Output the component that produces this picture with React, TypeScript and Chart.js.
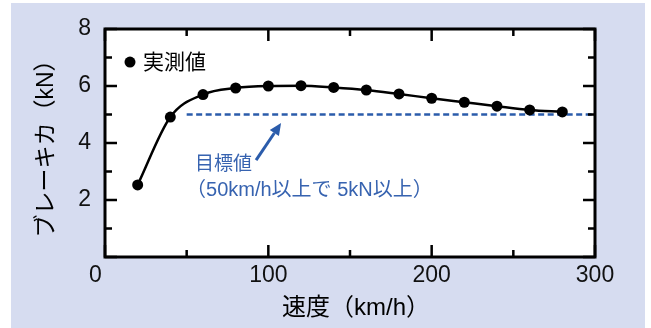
import React, { useEffect, useRef } from "react";
import { Chart, registerables } from "chart.js";

Chart.register(...registerables);

const speeds = [20, 40, 60, 80, 100, 120, 140, 160, 180, 200, 220, 240, 260, 280];
const forces = [2.53, 4.91, 5.7, 5.93, 6.0, 6.01, 5.95, 5.86, 5.72, 5.57, 5.43, 5.29, 5.16, 5.09];
const targetSpeeds = [50, 300];
const targetForces = [5, 5];
const xTickValues = [0, 100, 200, 300];
const yTickValues = [2, 4, 6, 8];
const xTitle = "速度（km/h）";
const yTitle = "ブレーキカ（kN）";
const legendLabel = "実測値";
const noteLine1 = "目標値";
const noteLine2 = "（50km/h以上で 5kN以上）";

const FONT = "'Liberation Sans', 'Noto Sans CJK JP', sans-serif";
const BLUE = "#2b5cab";
const NOTE_BLUE = "#3763b0";
const LAVENDER = "#d6dcf0";

const decorPlugin = {
  id: "decor",
  beforeDraw(chart: any) {
    const { ctx, chartArea: a } = chart;
    ctx.save();
    ctx.fillStyle = "#ffffff";
    ctx.fillRect(0, 0, chart.width, chart.height);
    ctx.fillStyle = LAVENDER;
    ctx.fillRect(11, 3, 634, 325);
    ctx.fillStyle = "#ffffff";
    ctx.fillRect(a.left, a.top, a.right - a.left, a.bottom - a.top);
    ctx.restore();
  },
  afterDraw(chart: any) {
    const { ctx, chartArea: a } = chart;
    const xs = chart.scales.x;
    const ys = chart.scales.y;
    ctx.save();
    // ticks
    ctx.strokeStyle = "#000";
    ctx.lineWidth = 2.5;
    ctx.beginPath();
    for (let v = 0; v <= 300; v += 50) {
      const px = xs.getPixelForValue(v);
      const len = v % 100 === 0 ? 12 : 7;
      ctx.moveTo(px, a.bottom);
      ctx.lineTo(px, a.bottom - len);
      ctx.moveTo(px, a.top);
      ctx.lineTo(px, a.top + len);
    }
    for (let v = 0; v <= 8; v += 1) {
      const py = ys.getPixelForValue(v);
      const len = v % 2 === 0 ? 12 : 7;
      ctx.moveTo(a.left, py);
      ctx.lineTo(a.left + len, py);
      ctx.moveTo(a.right, py);
      ctx.lineTo(a.right - len, py);
    }
    ctx.stroke();
    // border
    ctx.lineWidth = 3;
    ctx.strokeRect(a.left, a.top, a.right - a.left, a.bottom - a.top);

    // legend
    const lx = xs.getPixelForValue(15.3);
    const ly = ys.getPixelForValue(6.84);
    ctx.fillStyle = "#000";
    ctx.beginPath();
    ctx.arc(lx, ly, 5.5, 0, Math.PI * 2);
    ctx.fill();
    ctx.font = `21px ${FONT}`;
    ctx.textAlign = "left";
    ctx.textBaseline = "middle";
    ctx.fillText(legendLabel, lx + 13, ly + 1);

    // arrow
    const tx = xs.getPixelForValue(92.5), ty = ys.getPixelForValue(3.4);
    const hx = xs.getPixelForValue(107.8), hy = ys.getPixelForValue(4.7);
    const ang = Math.atan2(hy - ty, hx - tx);
    const headLen = 12, headW = 5.5;
    const bx = hx - headLen * Math.cos(ang), by = hy - headLen * Math.sin(ang);
    ctx.strokeStyle = BLUE;
    ctx.fillStyle = BLUE;
    ctx.lineWidth = 3;
    ctx.beginPath();
    ctx.moveTo(tx, ty);
    ctx.lineTo(bx, by);
    ctx.stroke();
    ctx.beginPath();
    ctx.moveTo(hx, hy);
    ctx.lineTo(bx + headW * Math.sin(ang), by - headW * Math.cos(ang));
    ctx.lineTo(bx - headW * Math.sin(ang), by + headW * Math.cos(ang));
    ctx.closePath();
    ctx.fill();

    // note text
    ctx.fillStyle = NOTE_BLUE;
    ctx.textAlign = "left";
    ctx.textBaseline = "middle";
    ctx.font = `19px ${FONT}`;
    ctx.fillText(noteLine1, xs.getPixelForValue(55.1), ys.getPixelForValue(3.23));
    ctx.font = `20px ${FONT}`;
    ctx.fillText(noteLine2, xs.getPixelForValue(49.6), ys.getPixelForValue(2.35));

    // axis titles
    ctx.fillStyle = "#000";
    ctx.textAlign = "center";
    ctx.textBaseline = "middle";
    ctx.font = `24px ${FONT}`;
    ctx.fillText(xTitle, (a.left + a.right) / 2 + 6, 308);
    ctx.font = `23px ${FONT}`;
    ctx.save();
    ctx.translate(47, (a.top + a.bottom) / 2);
    ctx.rotate(-Math.PI / 2);
    ctx.fillText(yTitle, 0, 0);
    ctx.restore();
    ctx.restore();
  },
};

export default function App() {
  const ref = useRef<HTMLCanvasElement | null>(null);
  useEffect(() => {
    if (!ref.current) return;
    const chart = new Chart(ref.current, {
      type: "line",
      data: {
        datasets: [
          {
            data: speeds.map((s, i) => ({ x: s, y: forces[i] })),
            borderColor: "#000",
            backgroundColor: "#000",
            borderWidth: 2.5,
            pointRadius: 5.5,
            pointBackgroundColor: "#000",
            pointBorderWidth: 0,
            cubicInterpolationMode: "monotone",
            fill: false,
            order: 1,
          },
          {
            data: targetSpeeds.map((s, i) => ({ x: s, y: targetForces[i] })),
            borderColor: BLUE,
            borderWidth: 2.5,
            borderDash: [6, 3.5],
            pointRadius: 0,
            fill: false,
            order: 2,
          },
        ],
      },
      options: {
        responsive: false,
        animation: false,
        devicePixelRatio: 1,
        layout: { padding: { top: 29, right: 56, left: 0, bottom: 0 } },
        plugins: { legend: { display: false }, tooltip: { enabled: false } },
        scales: {
          x: {
            type: "linear",
            min: 0,
            max: 300,
            afterFit: (s: any) => { s.height = 71; },
            afterBuildTicks: (s: any) => { s.ticks = xTickValues.map((v) => ({ value: v })); },
            grid: { display: false, drawTicks: false },
            border: { display: false },
            ticks: {
              autoSkip: false,
              maxRotation: 0,
              padding: 5,
              color: "#111",
              font: { size: 23, family: FONT },
              callback: (v: any) => (v === 0 ? "0   " : String(v)),
            },
          },
          y: {
            type: "linear",
            min: 0,
            max: 8,
            afterFit: (s: any) => { s.width = 105; },
            afterBuildTicks: (s: any) => { s.ticks = yTickValues.map((v) => ({ value: v })); },
            grid: { display: false, drawTicks: false },
            border: { display: false },
            ticks: {
              padding: 14,
              color: "#111",
              font: { size: 23, family: FONT },
            },
          },
        },
      },
      plugins: [decorPlugin],
    } as any);
    return () => chart.destroy();
  }, []);
  return (
    <div style={{ position: "absolute", left: 0, top: 0, width: 651, height: 328 }}>
      <canvas ref={ref} width={651} height={328} style={{ display: "block" }} />
    </div>
  );
}
